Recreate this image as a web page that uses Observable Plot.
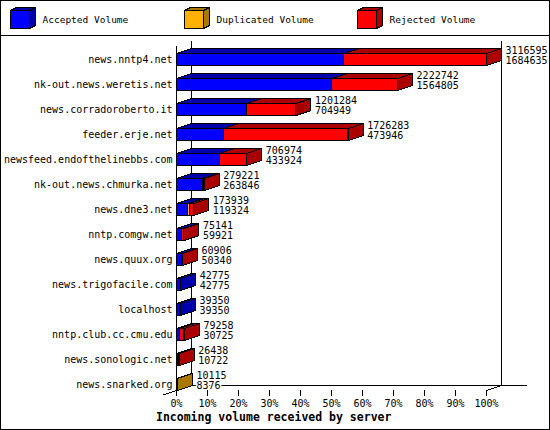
<!DOCTYPE html>
<html><head><meta charset="utf-8">
<script src="https://cdn.jsdelivr.net/npm/d3@7"></script>
<script src="https://cdn.jsdelivr.net/npm/@observablehq/plot@0.6"></script>
<style>
body{margin:0;background:#fff;}
#wrap{position:relative;width:550px;height:430px;box-sizing:border-box;border:1px solid #000;background:#fff;overflow:hidden}
#legend{height:34px;border-bottom:1px solid #000}
#legend svg,#chart svg{display:block}
#title{height:18px;line-height:16px;padding-left:155px;font:bold 11.5px "DejaVu Sans Mono",monospace;color:#000;white-space:nowrap}
</style></head><body>
<div id="wrap"><div id="legend"></div><div id="chart"></div><div id="title"></div></div>
<script>
const servers = ["news.nntp4.net","nk-out.news.weretis.net","news.corradoroberto.it","feeder.erje.net","newsfeed.endofthelinebbs.com","nk-out.news.chmurka.net","news.dne3.net","nntp.comgw.net","news.quux.org","news.trigofacile.com","localhost","nntp.club.cc.cmu.edu","news.sonologic.net","news.snarked.org"];
const totalVolume = [3116595,2222742,1201284,1726283,706974,279221,173939,75141,60906,42775,39350,79258,26438,10115];
const acceptedVolume = [1684635,1564805,704949,473946,433924,263846,119324,59921,50340,42775,39350,30725,10722,8376];
const duplicatedVolume = [0,0,0,0,0,0,12000,0,0,0,0,0,0,1739];
const seriesNames = ["Accepted Volume","Duplicated Volume","Rejected Volume"];
const frontColors = ["#0000ff","#ffb000","#ff0000"];
const sideColors = ["#0000aa","#aa7700","#aa0000"];
const xTicks = [0,10,20,30,40,50,60,70,80,90,100];
const chartTitle = "Incoming volume received by server";

// geometry
const W = 548, Hgt = 374, mL = 175, mR = 63, mT = 9, mB = 20;
const pxPerX = (W - mL - mR) / 100;
const DX = 15 / pxPerX;   // depth in x units
const DY = 5 / 25;        // depth in row units
const HH = 6 / 25;        // half height of front face
const yTopF = -0.56, yBotF = 13.24;

const maxTotal = d3.max(totalVolume);
const pct = v => v / maxTotal * 100;

const segments = [];
servers.forEach((s, i) => {
  const a = acceptedVolume[i], d = duplicatedVolume[i], r = totalVolume[i] - a - d;
  let start = 0;
  [a, d, r].forEach((v, k) => {
    if (v > 0) { segments.push({i, k, x1: pct(start), x2: pct(start + v)}); start += v; }
  });
});
const tops = segments.flatMap((g, j) =>
  [[g.x1, g.i - HH], [g.x2, g.i - HH], [g.x2 + DX, g.i - HH - DY], [g.x1 + DX, g.i - HH - DY], [g.x1, g.i - HH]]
    .map(([x, y]) => ({id: j, x, y, fill: sideColors[g.k]})));
const lastSeg = d3.rollup(segments, v => v[v.length - 1], d => d.i);
const sides = [...lastSeg.values()].flatMap(g => {
  const E = g.x2;
  return [[E, g.i - HH], [E + DX, g.i - HH - DY], [E + DX, g.i + HH - DY], [E, g.i + HH], [E, g.i - HH]]
    .map(([x, y]) => ({id: g.i, x, y, fill: sideColors[g.k]}));
});
const labels = servers.map((s, i) => ({i, x: pct(totalVolume[i]) + DX, total: totalVolume[i], acc: acceptedVolume[i]}));
const backEnd = (525 - mL) / pxPerX;
const frame = [
  {x1: 0, y1: yTopF, x2: 0, y2: yBotF},
  {x1: DX, y1: yTopF - DY, x2: DX, y2: yBotF - DY},
  {x1: 100 + DX, y1: yTopF - DY, x2: 100 + DX, y2: yBotF - DY},
  {x1: DX, y1: yBotF - DY, x2: backEnd, y2: yBotF - DY},
  {x1: -0.93 * DX, y1: yBotF + 0.93 * DY, x2: DX, y2: yBotF - DY},
  {x1: 100, y1: yBotF, x2: 100 + DX, y2: yBotF - DY}
];

const chart = Plot.plot({
  width: W, height: Hgt, marginLeft: mL, marginRight: mR, marginTop: mT, marginBottom: mB,
  style: {fontFamily: "'DejaVu Sans Mono', monospace", fontSize: "10px", background: "white", color: "black"},
  x: {domain: [0, 100]},
  y: {domain: [yBotF, yTopF]},
  color: {type: "identity"},
  marks: [
    Plot.link(frame, {x1: "x1", y1: "y1", x2: "x2", y2: "y2", stroke: "black", strokeWidth: 1, shapeRendering: "crispEdges"}),
    Plot.rect(segments, {x1: "x1", x2: "x2", y1: d => d.i - HH, y2: d => d.i + HH, fill: d => frontColors[d.k], stroke: "black", strokeWidth: 1, shapeRendering: "crispEdges"}),
    Plot.line(tops, {x: "x", y: "y", z: "id", fill: "fill", stroke: "black", strokeWidth: 1, curve: "linear", shapeRendering: "crispEdges"}),
    Plot.line(sides, {x: "x", y: "y", z: "id", fill: "fill", stroke: "black", strokeWidth: 1, curve: "linear", shapeRendering: "crispEdges"}),
    Plot.text(labels, {x: "x", y: d => d.i - 0.34, text: d => String(d.total), dx: 4, textAnchor: "start", fill: "black", stroke: "white", strokeWidth: 3, paintOrder: "stroke"}),
    Plot.text(labels, {x: "x", y: d => d.i + 0.06, text: d => String(d.acc), dx: 4, textAnchor: "start", fill: "black", stroke: "white", strokeWidth: 3, paintOrder: "stroke"}),
    Plot.axisY({ticks: d3.range(servers.length), tickFormat: i => servers[i], tickSize: 0, tickPadding: 4, label: null}),
    Plot.axisX({ticks: xTicks, tickFormat: d => d + "%", tickSize: 6, tickPadding: 3, label: null})
  ]
});
document.getElementById("chart").appendChild(chart);
document.getElementById("title").textContent = chartTitle;

// legend
const lg = d3.select("#legend").append("svg").attr("width", W).attr("height", 34)
  .style("font-family", "'DejaVu Sans Mono', monospace").style("font-size", "9.5px");
seriesNames.forEach((name, k) => {
  const x0 = 9.5 + Math.round(k * 173.7), y0 = 9.5, w = 19, h = 18, dx = 6, dy = 3;
  const g = lg.append("g").attr("stroke", "#000").attr("shape-rendering", "crispEdges");
  g.append("polygon").attr("points", `${x0},${y0} ${x0 + w},${y0} ${x0 + w + dx},${y0 - dy} ${x0 + dx},${y0 - dy}`).attr("fill", sideColors[k]);
  g.append("polygon").attr("points", `${x0 + w},${y0} ${x0 + w + dx},${y0 - dy} ${x0 + w + dx},${y0 + h - dy} ${x0 + w},${y0 + h}`).attr("fill", sideColors[k]);
  g.append("rect").attr("x", x0).attr("y", y0).attr("width", w).attr("height", h).attr("fill", frontColors[k]);
  lg.append("text").attr("x", x0 + 32).attr("y", 19).attr("dy", "0.35em").attr("fill", "#000").text(name);
});
</script></body></html>
